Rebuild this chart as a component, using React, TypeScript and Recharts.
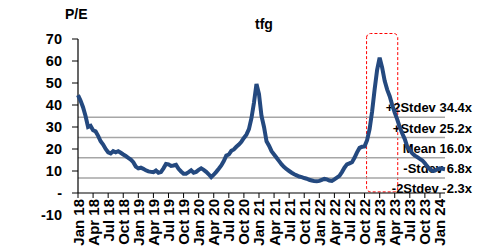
import { Line, LineChart, ReferenceArea, ReferenceLine, XAxis, YAxis } from 'recharts'

// P/E history, one reading every half month starting Jan 2018
const peValues = [
  44.5, 42, 39, 35, 30, 30.5, 28.5, 28, 26, 23.5, 22, 20, 18.5, 18, 19, 18.5, 19, 18.3, 17.5, 16.8,
  16, 15.2, 14, 12, 11.2, 11.5, 11, 10.3, 9.8, 9.6, 9.5, 10.2, 9.2, 9.5, 11.2, 13.2, 13, 12.3, 12.5, 12.8,
  11, 9.8, 8.8, 8.8, 9.5, 10.3, 9.2, 9.6, 10.5, 11.2, 10.5, 9.6, 8.5, 7.2, 8.3, 9.6, 11, 12.5, 14.5, 17,
  17.5, 19.2, 19.8, 21, 22, 23.3, 25, 26.5, 29, 34, 41, 49.5, 45, 35, 30, 23.5, 21.5, 19, 17.5, 16,
  14.5, 13, 11.8, 10.8, 10, 9.2, 8.5, 8, 7.5, 7.2, 6.8, 6.5, 6, 5.7, 5.4, 5.3, 5.5, 6, 6.4, 6.2,
  5.7, 5.5, 6.2, 7, 7.8, 9.5, 11.5, 13, 13.5, 14, 16, 18.5, 20.5, 21, 21.2, 24, 29, 37, 47, 56,
  61.5, 57, 51, 47, 44, 40, 36.5, 33.5, 30, 27, 24.5, 21, 19.5, 18, 17, 16.3, 15.5, 14.8, 13.5, 12,
  10.8, 10, 10.2, 10.8, 11.2, 11, 10.8,
]
const monthStep = 0.5

const tickLabels = [
  'Jan 18', 'Apr 18', 'Jul 18', 'Oct 18', 'Jan 19', 'Apr 19', 'Jul 19', 'Oct 19',
  'Jan 20', 'Apr 20', 'Jul 20', 'Oct 20', 'Jan 21', 'Apr 21', 'Jul 21', 'Oct 21',
  'Jan 22', 'Apr 22', 'Jul 22', 'Oct 22', 'Jan 23', 'Apr 23', 'Jul 23', 'Oct 23', 'Jan 24',
]
const tickMonths = tickLabels.map((_, i) => i * 3)

const bandNames = ['+2Stdev', '+Stdev', 'Mean', '-Stdev', '-2Stdev']
const bandValues = [34.4, 25.2, 16.0, 6.8, -2.3]

const yTicks = [-10, 0, 10, 20, 30, 40, 50, 60, 70]

// highlighted window (months since Jan 18) around the 2023 spike
const highlight = { x1: 57.4, x2: 63.6, y1: 0.5, y2: 72.5 }

const data = peValues.map((pe, i) => ({ m: i * monthStep, pe }))

const W = 489
const H = 247
const TOP = 39
const Y_W = 78
const X_H = 32
const Y_MIN = -10
const Y_MAX = 70
const plotH = H - TOP - X_H
const zeroY = TOP + ((Y_MAX - 0) / (Y_MAX - Y_MIN)) * plotH

const font = '"Liberation Sans", Arial, sans-serif'
const blue = '#24497f'
const grey = '#a6a6a6'

function XTick({ x, payload }: any) {
  const idx = tickMonths.indexOf(payload.value)
  return (
    <g>
      <line x1={x} x2={x} y1={zeroY} y2={zeroY + 5} stroke="#000" />
      <text
        transform={`translate(${x + 5.5},${zeroY + 6}) rotate(-90)`}
        textAnchor="end"
        fontSize={15}
        fontWeight="bold"
        fontFamily={font}
        fill="#000"
      >
        {tickLabels[idx]}
      </text>
    </g>
  )
}

function YTick({ y, payload }: any) {
  const v = payload.value
  return (
    <g>
      {v >= 0 && <line x1={Y_W - 6} x2={Y_W} y1={y} y2={y} stroke="#000" />}
      <text x={Y_W - 16} y={y + 5} textAnchor="end" fontSize={14.5} fontWeight="bold" fontFamily={font} fill="#000">
        {v === 0 ? '-' : v}
      </text>
    </g>
  )
}

const bandLabel = (text: string) => (props: any) => {
  const vb = props.viewBox
  return (
    <text
      x={vb.x + vb.width + 27}
      y={vb.y - 5}
      textAnchor="end"
      fontSize={13}
      fontWeight="bold"
      fontFamily={font}
      fill="#000"
    >
      {text}
    </text>
  )
}

export default function App() {
  return (
    <div style={{ position: 'absolute', left: 0, top: 0, width: W, height: H, background: '#fff' }}>
      <LineChart width={W} height={H} data={data} margin={{ top: TOP, right: 44, bottom: 0, left: 0 }}>
        <XAxis
          type="number"
          dataKey="m"
          domain={[0, 73]}
          ticks={tickMonths}
          interval={0}
          height={X_H}
          axisLine={false}
          tickLine={false}
          tick={<XTick />}
        />
        <YAxis
          domain={[Y_MIN, Y_MAX]}
          ticks={yTicks}
          width={Y_W}
          interval={0}
          axisLine={false}
          tickLine={false}
          tick={<YTick />}
        />
        {bandValues.map((v, i) => (
          <ReferenceLine
            key={bandNames[i]}
            y={v}
            stroke={grey}
            strokeWidth={1.5}
            strokeOpacity={v < 0 ? 0 : 1}
            label={bandLabel(`${bandNames[i]} ${v.toFixed(1)}x`)}
          />
        ))}
        <ReferenceArea
          x1={highlight.x1}
          x2={highlight.x2}
          y1={highlight.y1}
          y2={highlight.y2}
          ifOverflow="visible"
          fill="none"
          stroke="#ff0000"
          strokeDasharray="3 2"
          radius={4}
        />
        <ReferenceLine y={0} stroke="#000" strokeWidth={1.2} />
        <ReferenceLine segment={[{ x: 0, y: 0 }, { x: 0, y: Y_MAX }]} stroke="#000" strokeWidth={1.2} />
        <Line
          type="linear"
          dataKey="pe"
          stroke={blue}
          strokeWidth={4}
          dot={false}
          isAnimationActive={false}
        />
      </LineChart>
      <svg
        width={W}
        height={H}
        style={{ position: 'absolute', left: 0, top: 0, pointerEvents: 'none' }}
      >
        <text x={65} y={19} fontSize={14} fontWeight="bold" fontFamily={font}>
          P/E
        </text>
        <text x={255} y={29} fontSize={14} fontWeight="bold" fontFamily={font}>
          tfg
        </text>
      </svg>
    </div>
  )
}
